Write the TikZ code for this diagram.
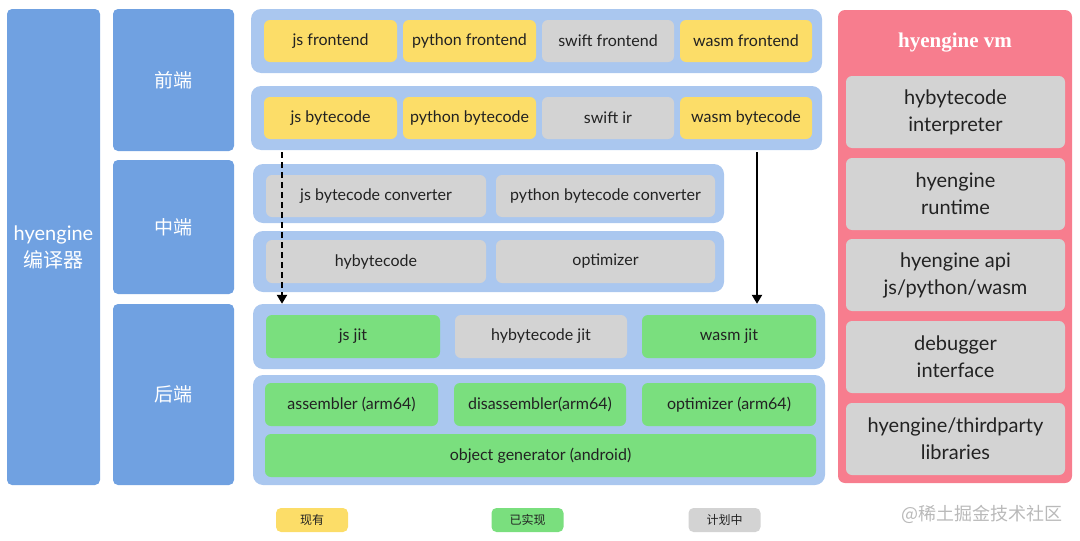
\documentclass[tikz,border=0pt]{standalone}
\usepackage{fontspec}
\setmainfont{Lato}
\newfontfamily\cjk{Noto Sans CJK SC}
\newfontfamily\titlefont{Liberation Serif}
\usetikzlibrary{arrows.meta}
\definecolor{colblue}{HTML}{70A1E1}
\definecolor{contblue}{HTML}{AAC7EF}
\definecolor{ylw}{HTML}{FCDD68}
\definecolor{gry}{HTML}{D3D3D3}
\definecolor{grn}{HTML}{7ADF7E}
\definecolor{pnk}{HTML}{F77D8E}
\definecolor{txt}{HTML}{222222}
\tikzset{
  sect/.style={fill=colblue, rounded corners=5pt, inner sep=0pt, text=white},
  cont/.style={fill=contblue, rounded corners=10pt, inner sep=0pt},
  item/.style={rounded corners=6pt, inner sep=0pt, text=txt, font=\fontsize{16}{18}\selectfont, align=center},
  yb/.style={item, fill=ylw},
  gb/.style={item, fill=gry},
  nb/.style={item, fill=grn},
  vmitem/.style={item, fill=gry, font=\fontsize{20}{27}\selectfont},
  legend/.style={rounded corners=5pt, inner sep=0pt, text=txt, font=\cjk\fontsize{12}{14}\selectfont, minimum width=72, minimum height=24},
}
\begin{document}
\begin{tikzpicture}[x=1pt,y=-1pt]
\useasboundingbox (0,0) rectangle (1080,541);
% left columns
\node[sect, minimum width=93, minimum height=476, align=center, font=\fontsize{20}{27}\selectfont] (L) at (53.5,247) {hyengine\\{\cjk 编译器}};
\node[sect, minimum width=121, minimum height=142, font=\cjk\fontsize{19}{22}\selectfont] (FE) at (173.5,80) {前端};
\node[sect, minimum width=121, minimum height=134, font=\cjk\fontsize{19}{22}\selectfont] (ME) at (173.5,227) {中端};
\node[sect, minimum width=121, minimum height=181, font=\cjk\fontsize{19}{22}\selectfont] (BE) at (173.5,394.5) {后端};
% containers
\node[cont, minimum width=571, minimum height=64] (C1) at (536.5,41) {};
\node[cont, minimum width=571, minimum height=64] (C2) at (536.5,118) {};
\node[cont, minimum width=471, minimum height=59] (C3) at (488.5,193.5) {};
\node[cont, minimum width=471, minimum height=61] (C4) at (488.5,261.5) {};
\node[cont, minimum width=572, minimum height=65] (C5) at (539,336.5) {};
\node[cont, minimum width=572, minimum height=110] (C6) at (539,430) {};
% frontend row 1
\node[yb, minimum width=133, minimum height=42] (jsfe) at (330.5,41) {js frontend};
\node[yb, minimum width=133, minimum height=42] (pyfe) at (469.5,41) {python frontend};
\node[gb, minimum width=132, minimum height=42] (swfe) at (608,41) {swift frontend};
\node[yb, minimum width=132, minimum height=42] (wafe) at (746,41) {wasm frontend};
% frontend row 2
\node[yb, minimum width=133, minimum height=42] (jsbc) at (330.5,118) {js bytecode};
\node[yb, minimum width=133, minimum height=42] (pybc) at (469.5,118) {python bytecode};
\node[gb, minimum width=132, minimum height=42] (swir) at (608,118) {swift ir};
\node[yb, minimum width=132, minimum height=42] (wabc) at (746,118) {wasm bytecode};
% middle
\node[gb, minimum width=220, minimum height=42] (jsconv) at (376,196) {js bytecode converter};
\node[gb, minimum width=219, minimum height=42] (pyconv) at (605.5,196) {python bytecode converter};
\node[gb, minimum width=220, minimum height=43] (hybc) at (376,261.5) {hybytecode};
\node[gb, minimum width=219, minimum height=43] (opt) at (605.5,261.5) {optimizer};
% backend
\node[nb, minimum width=174, minimum height=43] (jsjit) at (353,336.5) {js jit};
\node[gb, minimum width=172, minimum height=43] (hyjit) at (541,336.5) {hybytecode jit};
\node[nb, minimum width=174, minimum height=43] (wajit) at (729,336.5) {wasm jit};
\node[nb, minimum width=173, minimum height=43] (asm) at (351.5,404.5) {assembler (arm64)};
\node[nb, minimum width=172, minimum height=43] (dasm) at (540,404.5) {disassembler(arm64)};
\node[nb, minimum width=174, minimum height=43] (optarm) at (729,404.5) {optimizer (arm64)};
\node[nb, minimum width=551, minimum height=43] (objgen) at (540.5,455.5) {object generator (android)};
% vm
\node[fill=pnk, rounded corners=7pt, inner sep=0pt, minimum width=234, minimum height=473] (VM) at (955,246.5) {};
\node[text=white, font=\titlefont\bfseries\fontsize{21}{24}\selectfont] (VMt) at (955,43) {hyengine vm};
\node[vmitem, minimum width=219, minimum height=72] (vm1) at (955.5,112) {hybytecode\\interpreter};
\node[vmitem, minimum width=219, minimum height=72] (vm2) at (955.5,194) {hyengine\\runtime};
\node[vmitem, minimum width=219, minimum height=72] (vm3) at (955.5,275) {hyengine api\\js/python/wasm};
\node[vmitem, minimum width=219, minimum height=72] (vm4) at (955.5,357) {debugger\\interface};
\node[vmitem, minimum width=219, minimum height=72] (vm5) at (955.5,439) {hyengine/thirdparty\\libraries};
% arrows
\coordinate (ax1) at (282,0);
\coordinate (ax2) at (757,0);
\draw[line width=2.5pt, dash pattern=on 6pt off 4pt, -{Triangle[width=10pt,length=9pt]}] ([yshift=-2pt]C2.south -| ax1) -- (C5.north -| ax1);
\draw[line width=2.2pt, -{Triangle[width=10pt,length=9pt]}] ([yshift=-2pt]C2.south -| ax2) -- (C5.north -| ax2);
% legend
\node[legend, fill=ylw] (lg1) at (312,520) {现有};
\node[legend, fill=grn] (lg2) at (527.5,520) {已实现};
\node[legend, fill=gry] (lg3) at (724.5,520) {计划中};
\node[text=gray!55, font=\cjk\fontsize{18}{20}\selectfont, anchor=east] (wm) at (1066,514) {@稀土掘金技术社区};
\end{tikzpicture}
\end{document}
